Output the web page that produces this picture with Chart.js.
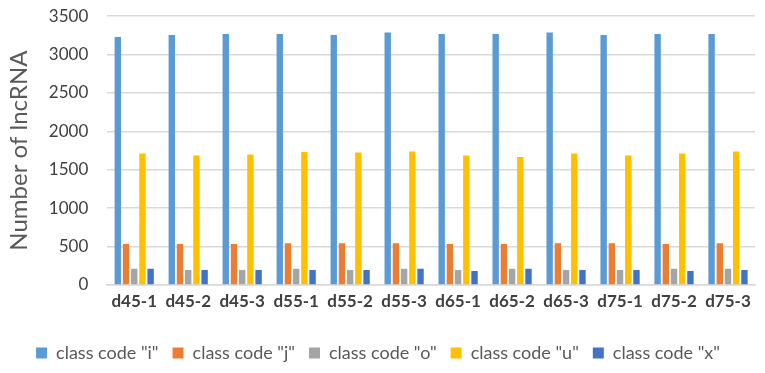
<!DOCTYPE html>
<html>
<head>
<meta charset="utf-8">
<script src="https://cdn.jsdelivr.net/npm/chart.js@4"></script>
<style>
html,body{margin:0;padding:0;background:#fff;}
#wrap{width:765px;height:373px;position:relative;}
</style>
</head>
<body>
<div id="wrap"><canvas id="c" width="765" height="373"></canvas></div>
<script>
const categories = ["d45-1","d45-2","d45-3","d55-1","d55-2","d55-3","d65-1","d65-2","d65-3","d75-1","d75-2","d75-3"];
const classI = [3230,3256,3269,3269,3256,3287,3269,3269,3287,3256,3269,3269];
const classJ = [535,535,535,545,545,545,535,535,545,545,535,545];
const classO = [213,196,196,213,196,213,196,213,196,196,213,213];
const classU = [1711,1685,1698,1732,1724,1737,1685,1666,1711,1685,1711,1737];
const classX = [213,196,196,196,196,213,183,213,196,196,183,196];
const seriesNames = ['class code "i"','class code "j"','class code "o"','class code "u"','class code "x"'];
const yTicks = [0,500,1000,1500,2000,2500,3000,3500];

const colors = ["#5B9BD5","#ED7D31","#A5A5A5","#FFC000","#4472C4"];
const values = [classI,classJ,classO,classU,classX];

new Chart(document.getElementById('c'), {
  type: 'bar',
  data: {
    labels: categories,
    datasets: values.map((v,i)=>({
      label: seriesNames[i],
      data: v,
      backgroundColor: colors[i],
      borderWidth: 0,
      categoryPercentage: 0.76,
      barPercentage: 0.78
    }))
  },
  options: {
    responsive: false,
    animation: false,
    layout: {padding: {left: 1, right: 10, top: 0, bottom: 1}},
    plugins: {
      legend: {
        position: 'bottom',
        labels: {
          boxWidth: 11, boxHeight: 11,
          color: '#595959',
          font: {family: "Lato, sans-serif", size: 18},
          padding: 14
        }
      },
      tooltip: {enabled: false}
    },
    scales: {
      x: {
        grid: {display: false, drawTicks: false},
        border: {display: true, color: '#D9D9D9', width: 1.5},
        ticks: {color: '#404040', font: {family: "Lato, sans-serif", size: 17, weight: 'bold'}, padding: 6, maxRotation: 0},
        afterFit: (s)=>{ s.height = 45; }
      },
      y: {
        min: 0, max: 3500,
        afterBuildTicks: (s)=>{ s.ticks = yTicks.map(v=>({value:v})); },
        grid: {color: '#D9D9D9', lineWidth: 1.5, drawTicks: true, tickLength: 13, tickColor: 'rgba(0,0,0,0)'},
        border: {display: false},
        ticks: {color: '#404040', font: {family: "Lato, sans-serif", size: 17}, padding: 6, callback: (v)=>String(v)},
        title: {display: true, text: 'Number of lncRNA', color: '#595959', font: {family: "Lato, sans-serif", size: 24}, padding: {top: 4, bottom: 9}}
      }
    }
  }
});
</script>
</body>
</html>
